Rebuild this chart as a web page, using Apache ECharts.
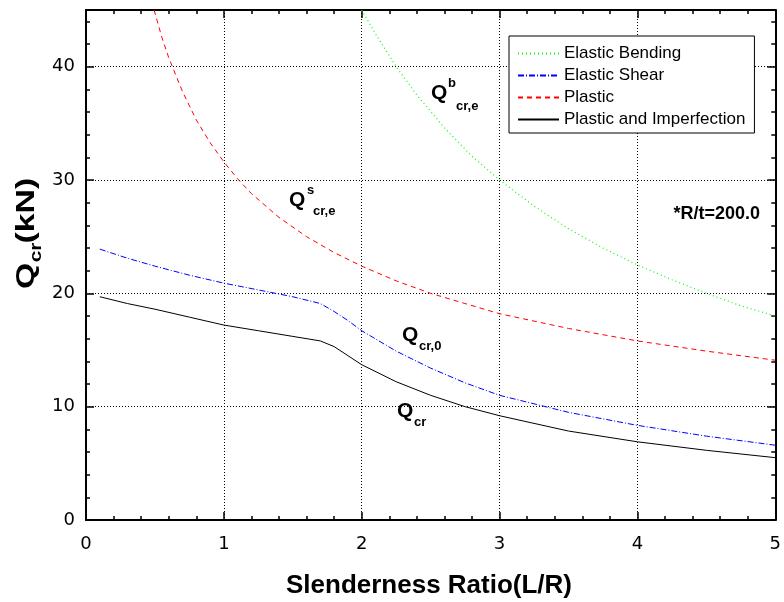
<!DOCTYPE html>
<html>
<head>
<meta charset="utf-8">
<script src="https://cdn.jsdelivr.net/npm/echarts@6/dist/echarts.min.js"></script>
<style>
html,body{margin:0;padding:0;background:#fff;}
#chart{width:784px;height:602px;}
</style>
</head>
<body>
<div id="chart"></div>
<script>
// ---- data ----
const seriesNames = ['Elastic Bending', 'Elastic Shear', 'Plastic', 'Plastic and Imperfection'];

const bendingX = [2.0, 2.1, 2.25, 2.4, 2.6, 2.8, 3.0, 3.25, 3.5, 3.75, 4.0, 4.25, 4.5, 4.75, 5.0];
const bendingY = [45, 42.9, 40, 37.5, 34.6, 32.1, 30, 27.7, 25.7, 24.0, 22.5, 21.2, 20, 18.9, 18];

const shearX = [0.1, 0.3, 0.5, 0.75, 1.0, 1.25, 1.5, 1.7, 1.8, 1.9, 2.0, 2.25, 2.5, 2.75, 3.0, 3.5, 4.0, 4.5, 5.0];
const shearY = [23.9, 23.1, 22.4, 21.6, 20.9, 20.3, 19.7, 19.1, 18.4, 17.6, 16.7, 14.9, 13.4, 12.1, 11.0, 9.5, 8.35, 7.4, 6.6];

const plasticX = [0.494, 0.55, 0.6, 0.7, 0.8, 0.9, 1.0, 1.1, 1.2, 1.4, 1.6, 1.8, 2.0, 2.25, 2.5, 2.75, 3.0, 3.5, 4.0, 4.5, 5.0];
const plasticY = [45, 42.6, 40.8, 37.8, 35.3, 33.3, 31.6, 30.1, 28.8, 26.7, 25.0, 23.6, 22.4, 21.1, 20.0, 19.1, 18.2, 16.9, 15.8, 14.9, 14.1];

const imperfX = [0.1, 0.3, 0.5, 0.75, 1.0, 1.25, 1.5, 1.7, 1.8, 1.9, 2.0, 2.25, 2.5, 2.75, 3.0, 3.5, 4.0, 4.5, 5.0];
const imperfY = [19.7, 19.1, 18.6, 17.9, 17.2, 16.7, 16.2, 15.8, 15.3, 14.5, 13.7, 12.2, 11.0, 10.0, 9.2, 7.85, 6.9, 6.15, 5.5];

const xTicks = [0, 1, 2, 3, 4, 5];
const yTicks = [0, 10, 20, 30, 40];

// ---- chart ----
const zip = (xs, ys) => xs.map((x, i) => [x, ys[i]]);
const chart = echarts.init(document.getElementById('chart'), null, {renderer: 'canvas'});

const AF = '"Liberation Sans", Arial, sans-serif';
const NF = '"DejaVu Sans", sans-serif';

function mkX(pos, major, showLabel) {
  return {
    type: 'value', position: pos, min: 0, max: 5, interval: major ? 1 : 0.2,
    axisLine: {show: major, onZero: false, lineStyle: {color: '#000', width: 2}},
    axisTick: {show: true, inside: true, length: major ? 8 : 4, lineStyle: {color: '#000', width: 1.5}},
    axisLabel: {show: showLabel, color: '#000', fontFamily: NF, fontSize: 18, margin: 15,
      formatter: v => xTicks.includes(v) ? String(v) : ''},
    splitLine: {show: major && showLabel, lineStyle: {color: '#000', width: 1, type: [1, 2]}}
  };
}
function mkY(pos, major, showLabel) {
  return {
    type: 'value', position: pos, min: 0, max: 45, interval: major ? 10 : 2,
    axisLine: {show: major, onZero: false, lineStyle: {color: '#000', width: 2}},
    axisTick: {show: true, inside: true, length: major ? 8 : 4, lineStyle: {color: '#000', width: 1.5}},
    axisLabel: {show: showLabel, color: '#000', fontFamily: NF, fontSize: 18, margin: 11,
      formatter: v => yTicks.includes(v) ? String(v) : ''},
    splitLine: {show: major && showLabel, lineStyle: {color: '#000', width: 1, type: [1, 2]}}
  };
}

const lineBase = {type: 'line', symbol: 'none', smooth: false, xAxisIndex: 0, yAxisIndex: 0, z: 5};

const option = {
  animation: false,
  backgroundColor: '#fff',
  grid: {left: 86, right: 7, top: 10, bottom: 82, containLabel: false},
  xAxis: [mkX('bottom', true, true), mkX('bottom', false, false), mkX('top', true, false), mkX('top', false, false)],
  yAxis: [mkY('left', true, true), mkY('left', false, false), mkY('right', true, false), mkY('right', false, false)],
  legend: {
    orient: 'vertical', left: 509, top: 36,
    data: seriesNames,
    backgroundColor: '#fff',
    borderColor: '#000', borderWidth: 1, borderRadius: 0,
    padding: [9, 9, 5, 8],
    itemWidth: 41, itemHeight: 14, itemGap: 5,
    itemStyle: {opacity: 0},
    textStyle: {color: '#000', fontFamily: AF, fontSize: 17, lineHeight: 17},
    z: 10
  },
  series: [
    Object.assign({}, lineBase, {name: seriesNames[0], data: zip(bendingX, bendingY), color: '#00ff00',
      lineStyle: {color: '#00ff00', width: 1.2, type: [1, 3]}}),
    Object.assign({}, lineBase, {name: seriesNames[1], data: zip(shearX, shearY), color: '#0000ff',
      lineStyle: {color: '#0000ff', width: 1, type: [6, 2, 1, 2]}}),
    Object.assign({}, lineBase, {name: seriesNames[2], data: zip(plasticX, plasticY), color: '#ff0000',
      lineStyle: {color: '#ff0000', width: 1, type: [5, 4]}}),
    Object.assign({}, lineBase, {name: seriesNames[3], data: zip(imperfX, imperfY), color: '#000000',
      lineStyle: {color: '#000000', width: 1, type: 'solid'}})
  ],
  graphic: []
};

function txt(x, y, text, size, extra) {
  return Object.assign({type: 'text', x: x, y: y, z: 20, style: {
    text: text, fill: '#000', font: 'bold ' + size + 'px ' + AF,
    align: 'left', textAlign: 'left', verticalAlign: 'middle', textVerticalAlign: 'middle'}}, extra || {});
}

option.graphic = [
  // Q^s_cr,e
  txt(289, 200, 'Q', 21), txt(307, 190, 's', 13), txt(313, 211, 'cr,e', 13),
  // Q^b_cr,e
  txt(431, 93, 'Q', 21), txt(448, 83, 'b', 13), txt(456, 106, 'cr,e', 13),
  // Q_cr,0
  txt(402, 335, 'Q', 21), txt(419, 346, 'cr,0', 13),
  // Q_cr
  txt(397, 411, 'Q', 21), txt(414, 422, 'cr', 13),
  // R/t note
  {type: 'text', x: 760, y: 214, z: 20, style: {text: '*R/t=200.0', fill: '#000', font: 'bold 18px ' + AF,
    align: 'right', textAlign: 'right', verticalAlign: 'middle', textVerticalAlign: 'middle'}},
  // x axis title
  {type: 'text', x: 429, y: 586, z: 20, style: {text: 'Slenderness Ratio(L/R)', fill: '#000', font: 'bold 26px ' + AF,
    align: 'center', textAlign: 'center', verticalAlign: 'middle', textVerticalAlign: 'middle'}},
  // y axis title (rotated)
  {type: 'group', x: 27, y: 289, rotation: Math.PI / 2, scaleX: 1.3, z: 20, children: [
    {type: 'text', x: 0, y: 0, style: {text: 'Q', fill: '#000', font: 'bold 26px ' + AF,
      align: 'left', textAlign: 'left', verticalAlign: 'middle', textVerticalAlign: 'middle'}},
    {type: 'text', x: 20.5, y: 10, style: {text: 'cr', fill: '#000', font: 'bold 16px ' + AF,
      align: 'left', textAlign: 'left', verticalAlign: 'middle', textVerticalAlign: 'middle'}},
    {type: 'text', x: 35, y: 0, style: {text: '(kN)', fill: '#000', font: 'bold 26px ' + AF,
      align: 'left', textAlign: 'left', verticalAlign: 'middle', textVerticalAlign: 'middle'}}
  ]}
];

chart.setOption(option);
</script>
</body>
</html>
